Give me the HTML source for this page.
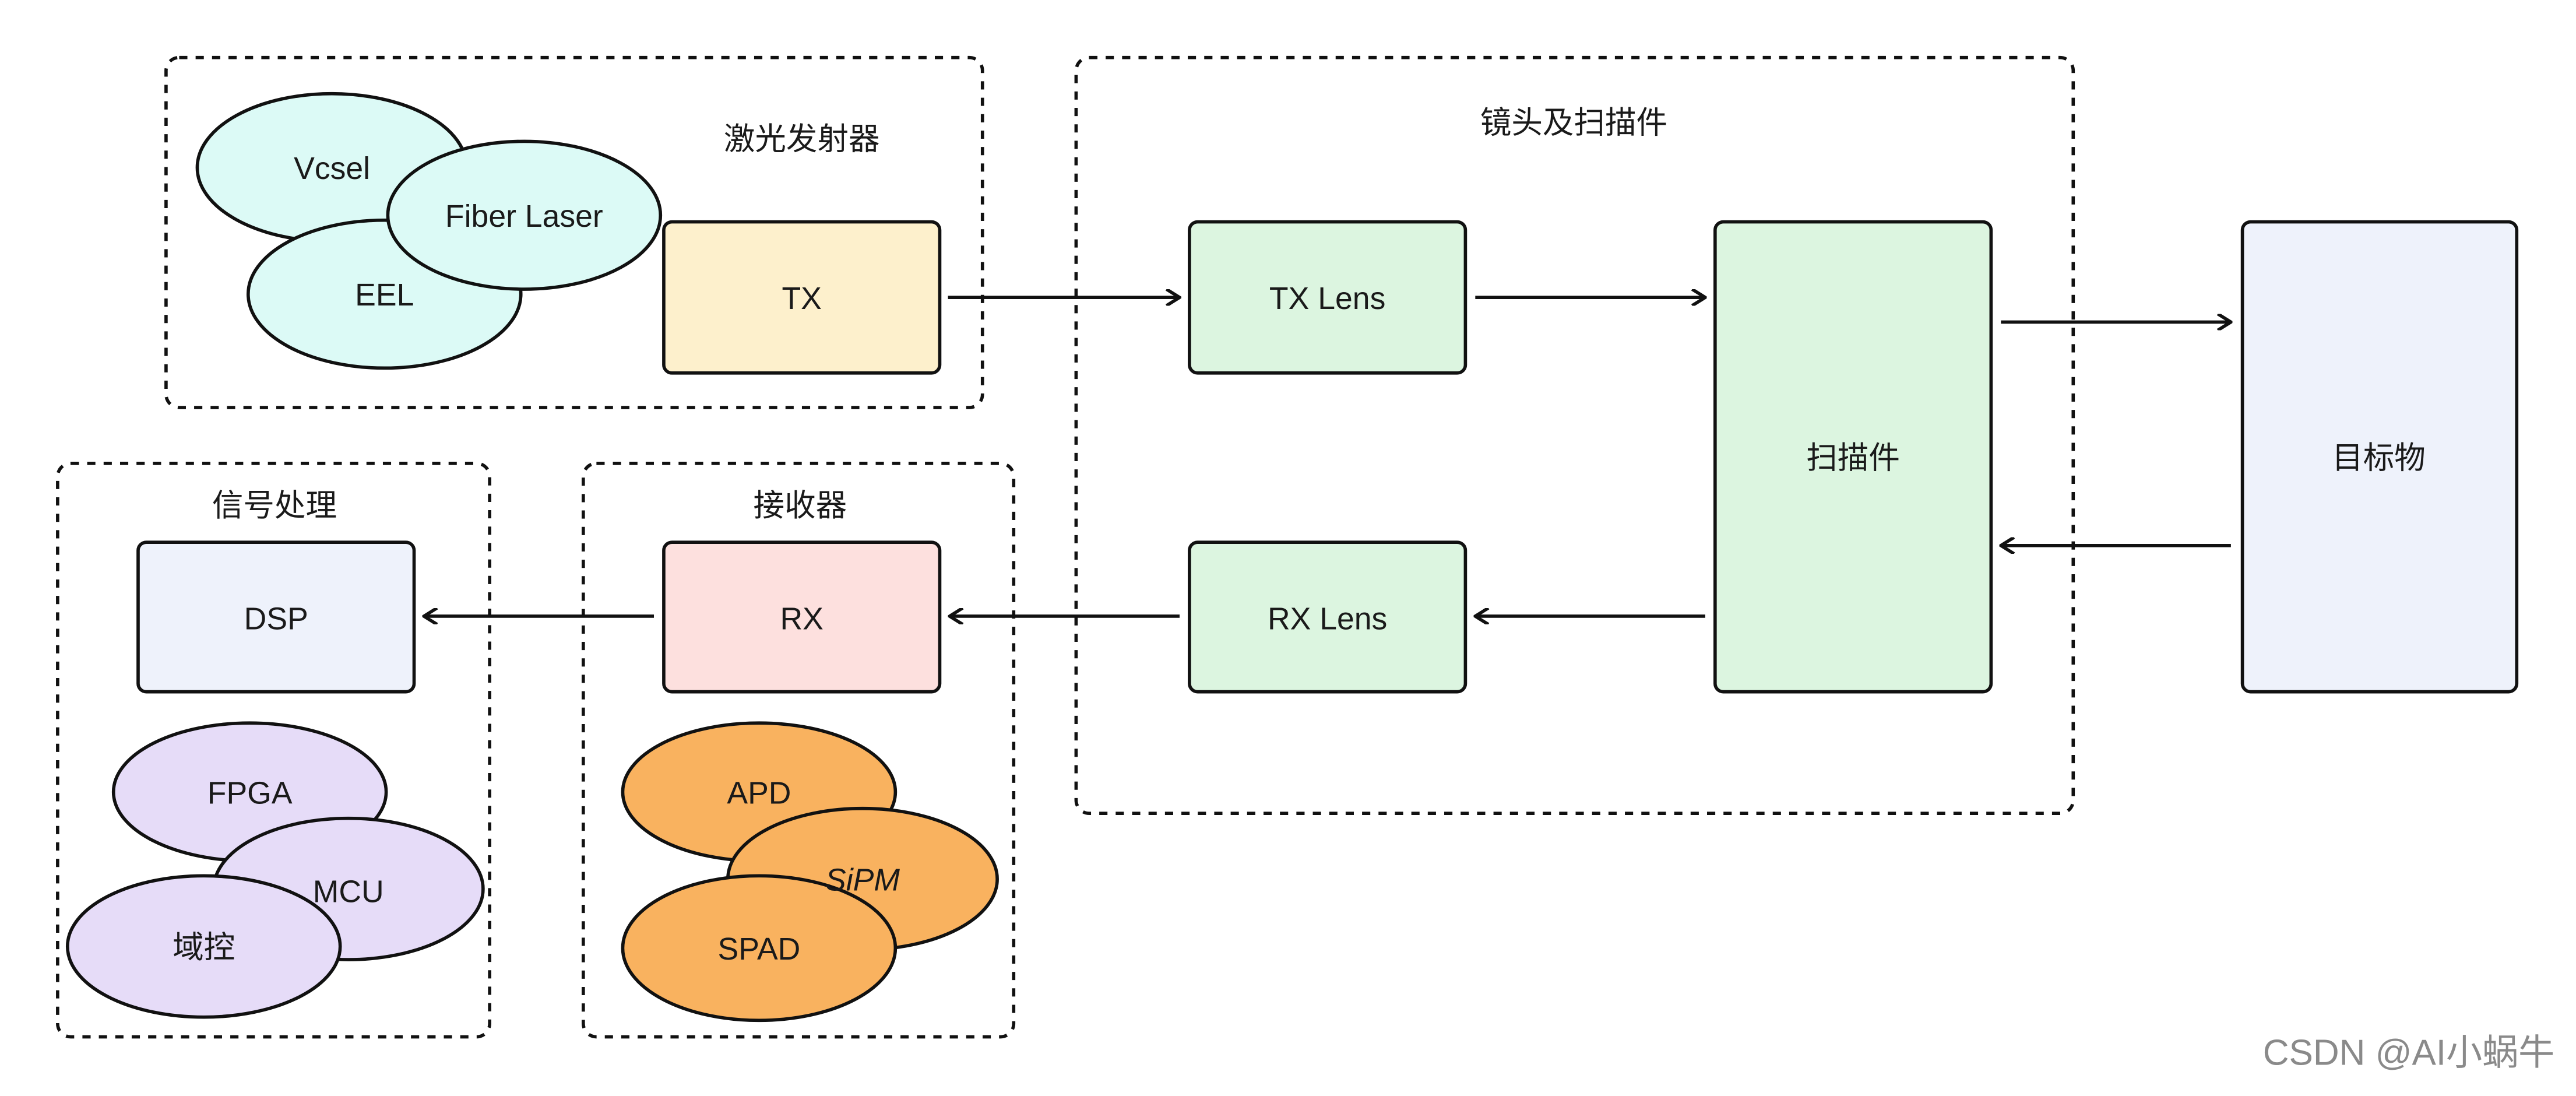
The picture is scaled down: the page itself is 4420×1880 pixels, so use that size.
<!DOCTYPE html>
<html><head><meta charset="utf-8"><style>
html,body{margin:0;padding:0;background:#fff;}
svg{display:block;}
text{font-family:"Liberation Sans","Noto Sans CJK SC",sans-serif;fill:#1a1a1a;}
</style></head><body>
<svg width="4420" height="1880" viewBox="0 0 1568 667" xmlns="http://www.w3.org/2000/svg">
<defs><marker id="a" markerWidth="10" markerHeight="10" refX="9" refY="5" orient="auto" markerUnits="userSpaceOnUse"><path d="M1,0 L9,5 L1,10" fill="none" stroke="#111" stroke-width="2"/></marker></defs>
<rect width="1568" height="667" fill="#fff"/>
<g fill="none" stroke="#111" stroke-width="2" stroke-dasharray="5,5">
<rect x="101" y="35" width="497" height="213" rx="8"/>
<rect x="655" y="35" width="607" height="460" rx="8"/>
<rect x="35" y="282" width="263" height="349" rx="8"/>
<rect x="355" y="282" width="262" height="349" rx="8"/>
</g>
<g font-size="19" text-anchor="middle">
<text x="488" y="91">激光发射器</text>
<text x="958" y="81">镜头及扫描件</text>
<text x="167" y="314">信号处理</text>
<text x="487" y="314">接收器</text>
</g>
<g stroke="#111" stroke-width="2">
<rect x="404" y="135" width="168" height="92" rx="5" fill="#fdf0cc"/>
<rect x="724" y="135" width="168" height="92" rx="5" fill="#dcf5e0"/>
<rect x="1044" y="135" width="168" height="286" rx="5" fill="#dcf5e0"/>
<rect x="1365" y="135" width="167" height="286" rx="5" fill="#eef2fb"/>
<rect x="724" y="330" width="168" height="91" rx="5" fill="#dcf5e0"/>
<rect x="404" y="330" width="168" height="91" rx="5" fill="#fde0de"/>
<rect x="84" y="330" width="168" height="91" rx="5" fill="#eef2fb"/>
<ellipse cx="202" cy="102" rx="82" ry="45" fill="#dcfaf6"/>
<ellipse cx="234" cy="179" rx="83" ry="45" fill="#dcfaf6"/>
<ellipse cx="319" cy="131" rx="83" ry="45" fill="#dcfaf6"/>
<ellipse cx="152" cy="482" rx="83" ry="42" fill="#e6dcf8"/>
<ellipse cx="212" cy="541" rx="82" ry="43" fill="#e6dcf8"/>
<ellipse cx="124" cy="576" rx="83" ry="43" fill="#e6dcf8"/>
<ellipse cx="462" cy="482" rx="83" ry="42" fill="#f9b25f"/>
<ellipse cx="525" cy="535" rx="82" ry="43" fill="#f9b25f"/>
<ellipse cx="462" cy="577" rx="83" ry="44" fill="#f9b25f"/>
</g>
<g stroke="#111" stroke-width="2" marker-end="url(#a)">
<line x1="577" y1="181" x2="718" y2="181"/>
<line x1="898" y1="181" x2="1038" y2="181"/>
<line x1="1218" y1="196" x2="1358" y2="196"/>
<line x1="1358" y1="332" x2="1218" y2="332"/>
<line x1="1038" y1="375" x2="898" y2="375"/>
<line x1="718" y1="375" x2="578" y2="375"/>
<line x1="398" y1="375" x2="258" y2="375"/>
</g>
<g font-size="19" text-anchor="middle">
<text x="488" y="188">TX</text>
<text x="808" y="188">TX Lens</text>
<text x="1128" y="285">扫描件</text>
<text x="1448" y="285">目标物</text>
<text x="808" y="383">RX Lens</text>
<text x="488" y="383">RX</text>
<text x="168" y="383">DSP</text>
<text x="202" y="109">Vcsel</text>
<text x="234" y="186">EEL</text>
<text x="319" y="138">Fiber Laser</text>
<text x="152" y="489">FPGA</text>
<text x="212" y="549">MCU</text>
<text x="124" y="583">域控</text>
<text x="462" y="489">APD</text>
<text x="525" y="542" font-style="italic">SiPM</text>
<text x="462" y="584">SPAD</text>
</g>
<text x="1555" y="648" font-size="22" text-anchor="end" style="fill:#8a8a8a">CSDN @AI小蜗牛</text>
</svg>
</body></html>
